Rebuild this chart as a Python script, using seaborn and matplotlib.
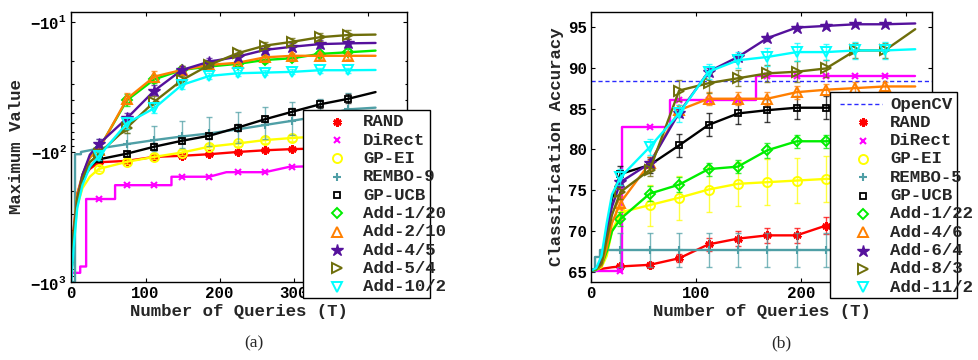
import numpy as np
import pandas as pd
import matplotlib
matplotlib.use("Agg")
import matplotlib.pyplot as plt
import seaborn as sns
from matplotlib.lines import Line2D
from matplotlib.patches import Rectangle
from matplotlib.ticker import FixedLocator, FuncFormatter, NullFormatter

# ---------------- data: panel (a) ----------------
T_a = [0, 3, 8, 15, 25, 37, 75, 112, 149, 186, 224, 261, 298, 335, 373, 410]
mk_a = [37, 75, 112, 149, 186, 224, 261, 298, 335, 373]

rand_a = [-800, -400, -210, -160, -135, -120, -117, -109, -107, -104, -100, -97, -95, -94, -93, -92]
gpei_a = [-900, -500, -260, -190, -155, -135, -119, -109, -101, -91, -86, -81, -78, -76, -74, -72]
gpucb_a = [-900, -450, -230, -165, -130, -114, -103, -91, -82, -75, -65, -56, -49, -43, -39, -34.6]
add1_a = [-900, -450, -220, -150, -110, -95, -40, -27.6, -23.4, -22, -21, -19.6, -19.0, -17.6, -17.1, -16.6]
add2_a = [-900, -420, -210, -150, -110, -96, -39, -26.3, -23.4, -21.4, -20.6, -18.7, -18.2, -18.2, -18.2, -18.2]
add4_a = [-900, -450, -230, -150, -105, -87, -55, -33.7, -23.4, -20.2, -18.5, -16.4, -15.5, -14.8, -14.6, -14.5]
add5_a = [-900, -450, -230, -160, -120, -103, -65, -41, -28, -21.4, -17.4, -15.2, -14.2, -13.1, -12.6, -12.5]
add10_a = [-1000, -550, -270, -180, -130, -108, -60, -46, -30.5, -26, -24.8, -24.5, -24.2, -23.5, -23.5, -23.4]

direct_T_a = [0, 12, 12, 20, 20, 37, 59, 59, 75, 112, 135, 135, 149, 186, 209, 224, 261, 294, 298, 335, 373, 410]
direct_a = [-850, -850, -760, -760, -230, -230, -230, -180, -180, -180, -180, -155, -155, -155, -143, -143,
            -143, -130, -130, -128, -126, -125]
rembo_T_a = [0, 5, 5, 13, 13, 37, 75, 112, 149, 186, 224, 261, 298, 335, 373, 410]
rembo_a = [-1000, -1000, -104, -104, -100, -94, -87, -81, -76, -72, -67, -62, -57.5, -53, -47, -45.6]

err_a = {
    "RAND": [4, 4, 4, 4, 3, 3, 3, 3, 3, 3],
    "DiRect": [0, 0, 0, 0, 0, 0, 0, 0, 0, 0],
    "GP-EI": [6, 5, 5, 4, 4, 4, 4, 4, 4, 3],
    "REMBO-9": [14, 16, 18, 18, 18, 18, 17, 16, 14, 12],
    "GP-UCB": [6, 5, 5, 4, 4, 4, 3, 3, 3, 3],
    "Add-1/20": [8, 4, 2, 1.5, 1.2, 1, 1, 1, 1, 1],
    "Add-2/10": [8, 4, 2.5, 1.5, 1.2, 1, 1, 1, 1, 1],
    "Add-4/5": [8, 5, 3, 1.5, 1.2, 1, 1, 1, 1, 1],
    "Add-5/4": [8, 6, 4, 2, 1.2, 1, 1, 1, 1, 1],
    "Add-10/2": [8, 6, 4, 2.5, 1.5, 1.2, 1, 1, 1, 1],
}

# ---------------- data: panel (b) ----------------
T_b = [0, 5, 10, 15, 20, 28, 56, 84, 112, 140, 168, 196, 224, 252, 280, 309]
mk_b = [28, 56, 84, 112, 140, 168, 196, 224, 252, 280]
opencv_acc = 88.4

rand_b = [65.2, 65.3, 65.4, 65.5, 65.6, 65.7, 65.9, 66.7, 68.4, 69.1, 69.5, 69.5, 70.7, 70.9, 71.0, 71.1]
gpei_b = [65.2, 65.3, 65.6, 67, 70, 72.3, 73.2, 74.1, 75.1, 75.8, 76.0, 76.2, 76.4, 76.5, 76.6, 76.6]
gpucb_b = [65.2, 65.4, 66, 70, 74, 77, 78.1, 80.5, 83.0, 84.4, 84.8, 85.1, 85.1, 85.3, 85.4, 85.5]
add1_b = [65.2, 65.3, 65.8, 67.5, 70, 71.5, 74.6, 75.7, 77.6, 77.9, 79.9, 81.0, 81.0, 81.3, 81.5, 81.6]
add4_b = [65.2, 65.4, 65.8, 68, 71, 73.5, 78.3, 84.8, 86.2, 86.2, 86.2, 87.0, 87.3, 87.5, 87.7, 87.7]
add6_b = [65.2, 65.5, 66.5, 70, 73, 76, 78.3, 84.5, 89.5, 91.3, 93.6, 94.9, 95.1, 95.3, 95.3, 95.4]
add8_b = [65.2, 65.4, 66, 69, 72, 74.8, 77.5, 87.2, 88.1, 88.7, 89.3, 89.5, 89.9, 92.1, 92.1, 94.7]
add11_b = [65.2, 65.5, 67, 71, 74.5, 76.6, 80.3, 84.4, 89.5, 90.9, 91.3, 91.9, 91.9, 92.1, 92.1, 92.25]

direct_T_b = [0, 28, 30, 30, 56, 75, 75, 84, 112, 140, 157, 157, 168, 196, 224, 252, 280, 309]
direct_b = [65.2, 65.2, 65.2, 82.8, 82.8, 82.8, 86.0, 86.0, 86.0, 86.0, 86.0, 89.0, 89.0, 89.0, 89.0, 89.0,
            89.0, 89.0]
rembo_T_b = [0, 4, 4, 9, 9, 28, 56, 84, 112, 140, 168, 196, 224, 252, 280, 309]
rembo_b = [65.2, 65.2, 66.8, 66.8, 67.7, 67.7, 67.7, 67.7, 67.7, 67.7, 67.7, 67.7, 67.7, 67.7, 67.7, 67.7]

err_b = {
    "RAND": [0.3, 0.4, 0.5, 0.8, 0.9, 0.9, 0.9, 1.0, 1.0, 1.0],
    "DiRect": [0, 0, 0, 0, 0, 0, 0, 0, 0, 0],
    "GP-EI": [0.8, 2.5, 2.7, 2.8, 2.7, 2.8, 2.8, 2.8, 2.8, 2.8],
    "REMBO-5": [2.1, 2.1, 2.1, 2.1, 2.1, 2.1, 2.1, 2.1, 2.1, 2.1],
    "GP-UCB": [1.0, 1.0, 1.4, 1.4, 1.3, 1.4, 1.4, 1.4, 1.4, 1.4],
    "Add-1/22": [0.8, 0.9, 0.9, 0.8, 0.8, 0.9, 0.8, 0.8, 0.8, 0.8],
    "Add-4/6": [0.8, 0.8, 0.6, 0.8, 0.8, 0.8, 0.8, 0.7, 0.7, 0.6],
    "Add-6/4": [0.6, 0.5, 0.5, 0.5, 0.4, 0.3, 0.2, 0.2, 0.2, 0.2],
    "Add-8/3": [0.8, 0.8, 1.3, 1.2, 1.0, 1.0, 1.3, 1.0, 0.9, 0.9],
    "Add-11/2": [1.0, 1.0, 1.0, 0.9, 1.0, 1.1, 1.1, 1.0, 1.0, 1.0],
}

# ---------------- styles (one per method slot) ----------------
sty = [
    dict(color="#ff0000", marker=(6, 2, 0), ms=6, mfc="#ff0000", mew=2.0),
    dict(color="#ff00ff", marker="x", ms=4.5, mfc="#ff00ff", mew=1.5),
    dict(color="#ffff00", marker="o", ms=6.5, mfc="none", mew=1.4),
    dict(color="#4f9fa6", marker="+", ms=6, mfc="none", mew=1.5),
    dict(color="#000000", marker="s", ms=5, mfc="none", mew=1.3),
    dict(color="#00ee00", marker="D", ms=5, mfc="none", mew=1.4),
    dict(color="#ff7f00", marker="^", ms=6.5, mfc="none", mew=1.4),
    dict(color="#55119c", marker="*", ms=9, mfc="#55119c", mew=1.0),
    dict(color="#6e6e0a", marker=">", ms=6.5, mfc="none", mew=1.4),
    dict(color="#00ffff", marker="v", ms=6.5, mfc="none", mew=1.4),
]

W, H = 979, 360
sns.set_style("ticks")
plt.rcParams["font.family"] = ["Liberation Mono", "DejaVu Sans Mono"]
plt.rcParams["font.weight"] = "bold"
plt.rcParams["mathtext.fontset"] = "custom"
plt.rcParams["mathtext.rm"] = "Liberation Mono:bold"
plt.rcParams["mathtext.it"] = "Liberation Mono:bold"
plt.rcParams["mathtext.bf"] = "Liberation Mono:bold"


def draw_series(ax, x, y, err, marks, st, flip=False):
    x = np.asarray(x, float)
    y = np.asarray(y, float)
    if flip:
        y = -y
    df = pd.DataFrame({"T": x, "v": y})
    sns.lineplot(data=df, x="T", y="v", ax=ax, color=st["color"], lw=1.7,
                 estimator=None, sort=False, legend=False)
    sel = np.isin(x, marks)
    xm, ym = x[sel][:len(err)], y[sel][:len(err)]
    if np.any(np.asarray(err) > 0):
        ax.errorbar(xm, ym, yerr=err, fmt="none", ecolor=st["color"], elinewidth=1.0,
                    capsize=2.5, capthick=1.0, alpha=0.75)
    ax.plot(xm, ym, ls="none", marker=st["marker"], ms=st["ms"], mfc=st["mfc"],
            mec=st["color"], mew=st["mew"])


def style_axes(ax):
    for s in ax.spines.values():
        s.set_linewidth(1.0)
        s.set_color("black")
    ax.tick_params(which="both", direction="in", top=True, right=True,
                   labelsize=11.3, pad=3, width=0.8, colors="black")
    ax.tick_params(which="major", length=3)
    ax.tick_params(which="minor", length=1.8)
    ax.grid(False)


def legend_box(fig, left, top, right, bottom, first, step, labels, styles, line_first=None):
    fig.add_artist(Rectangle((left / W, 1 - bottom / H), (right - left) / W, (bottom - top) / H,
                             transform=fig.transFigure, fc="white", ec="black", lw=1.0, zorder=10))
    i = 0
    if line_first is not None:
        yy = 1 - first / H
        fig.add_artist(Line2D([(left + 10) / W, (left + 52) / W], [yy, yy], transform=fig.transFigure,
                              color=line_first[1], ls=(0, (3, 2)), lw=1.0, zorder=11))
        fig.text((left + 60) / W, yy, line_first[0], va="center", ha="left", fontsize=12.5,
                 fontweight="bold", zorder=11)
        i = 1
    for lab, st in zip(labels, styles):
        yy = 1 - (first + i * step) / H
        fig.add_artist(Line2D([(left + 33.4) / W], [yy], transform=fig.transFigure, ls="none",
                              marker=st["marker"], ms=st["ms"], mfc=st["mfc"], mec=st["color"],
                              mew=st["mew"], zorder=11))
        fig.text((left + 60) / W, yy, lab, va="center", ha="left", fontsize=12.5,
                 fontweight="bold", zorder=11)
        i += 1


fig = plt.figure(figsize=(W / 100, H / 100), dpi=100)
ax1 = fig.add_axes([71.3 / W, 1 - 282 / H, (406.7 - 71.3) / W, 270 / H])
ax2 = fig.add_axes([591 / W, 1 - 282 / H, (932 - 591) / W, 270 / H])

# ---- panel (a) ----
names_a = ["RAND", "DiRect", "GP-EI", "REMBO-9", "GP-UCB", "Add-1/20", "Add-2/10", "Add-4/5",
           "Add-5/4", "Add-10/2"]
series_a = [(T_a, rand_a), (direct_T_a, direct_a), (T_a, gpei_a), (rembo_T_a, rembo_a), (T_a, gpucb_a),
            (T_a, add1_a), (T_a, add2_a), (T_a, add4_a), (T_a, add5_a), (T_a, add10_a)]
ax1.set_yscale("log")
for name, (xs, ys), st in zip(names_a, series_a, sty):
    draw_series(ax1, xs, ys, err_a[name], mk_a, st, flip=True)
ax1.set_xlim(0, 452)
ax1.set_ylim(1000, 8.38)
ax1.xaxis.set_major_locator(FixedLocator([0, 100, 200, 300, 400]))
# the 400 label sits fully under the legend box
ax1.xaxis.set_major_formatter(FuncFormatter(lambda v, p: "" if v > 350 else "%d" % v))
ax1.yaxis.set_major_locator(FixedLocator([10, 100, 1000]))
ax1.yaxis.set_minor_locator(FixedLocator([m * d for d in (10, 100) for m in range(2, 10)]))
ax1.yaxis.set_major_formatter(FuncFormatter(lambda v, p: r"$-10^{%d}$" % round(np.log10(v))))
ax1.yaxis.set_minor_formatter(NullFormatter())
ax1.set_xlabel("Number of Queries (T)", fontsize=12.5, fontweight="bold", labelpad=2)
ax1.set_ylabel("Maximum Value", fontsize=12.5, fontweight="bold", labelpad=5)
style_axes(ax1)

# ---- panel (b) ----
names_b = ["RAND", "DiRect", "GP-EI", "REMBO-5", "GP-UCB", "Add-1/22", "Add-4/6", "Add-6/4",
           "Add-8/3", "Add-11/2"]
series_b = [(T_b, rand_b), (direct_T_b, direct_b), (T_b, gpei_b), (rembo_T_b, rembo_b), (T_b, gpucb_b),
            (T_b, add1_b), (T_b, add4_b), (T_b, add6_b), (T_b, add8_b), (T_b, add11_b)]
ax2.axhline(opencv_acc, color="#2a2aff", ls=(0, (3, 2)), lw=1.0)
for name, (xs, ys), st in zip(names_b, series_b, sty):
    draw_series(ax2, xs, ys, err_b[name], mk_b, st)
ax2.set_xlim(0, 325)
ax2.set_ylim(63.8, 96.8)
ax2.xaxis.set_major_locator(FixedLocator([0, 100, 200, 300]))
# the 300 label sits fully under the legend box
ax2.xaxis.set_major_formatter(FuncFormatter(lambda v, p: "" if v > 250 else "%d" % v))
ax2.yaxis.set_major_locator(FixedLocator([65, 70, 75, 80, 85, 90, 95]))
ax2.set_xlabel("Number of Queries (T)", fontsize=12.5, fontweight="bold", labelpad=2)
ax2.set_ylabel("Classification Accuracy", fontsize=12.5, fontweight="bold", labelpad=3)
style_axes(ax2)

# ---- legends ----
legend_box(fig, 303.3, 110, 430, 298.3, 121.7, 18.33, names_a, sty)
legend_box(fig, 830, 91.7, 957, 298.3, 104, 18.33, names_b, sty, line_first=("OpenCV", "#2a2aff"))

fig.text(254 / W, 1 - 343 / H, "(a)", ha="center", va="center", fontsize=12.5,
         family="Liberation Serif", fontweight="normal")
fig.text(781 / W, 1 - 343 / H, "(b)", ha="center", va="center", fontsize=12.5,
         family="Liberation Serif", fontweight="normal")

fig.savefig("out.png", dpi=100)
